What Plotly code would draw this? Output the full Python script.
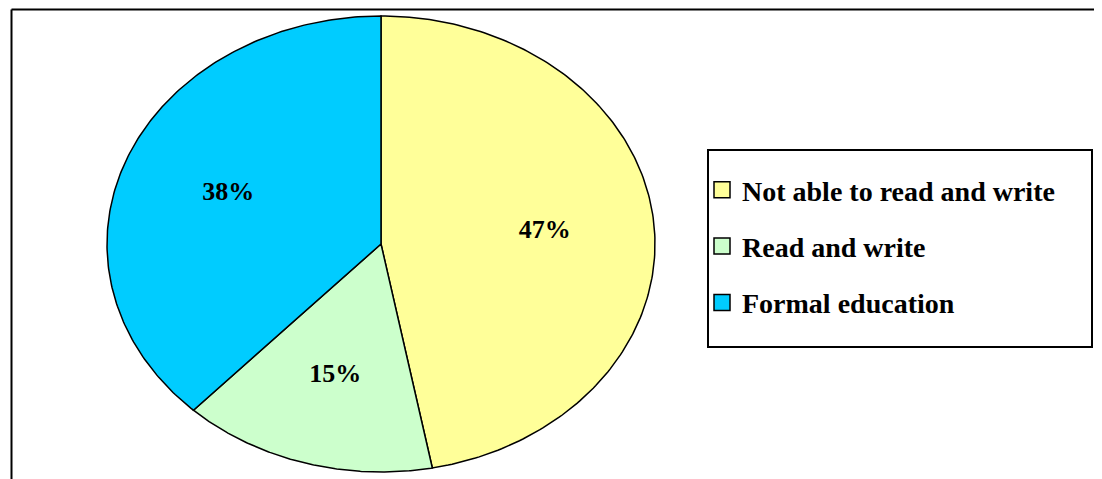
import numpy as np
import plotly.graph_objects as go

# ---- data ----
categories = ["Not able to read and write", "Read and write", "Formal education"]
values = [47, 15, 38]
labels = ["47%", "15%", "38%"]
colors = ["#FFFF99", "#CCFFCC", "#00CCFF"]

# ---- layout geometry (page pixel space; page body has 8px margin) ----
PW, PH = 1102, 479
OFF = 8
W, H = PW - OFF, PH - OFF
CX, CY, RX, RY = 381, 244, 274, 228
LABEL_R = 0.6

fig = go.Figure()
total = float(sum(values))
start = 0.0
for cat, v, lab, col in zip(categories, values, labels, colors):
    frac = v / total
    t0, t1 = start * 2 * np.pi, (start + frac) * 2 * np.pi
    th = np.linspace(t0, t1, 200)
    xs = np.concatenate([[CX], CX + RX * np.sin(th), [CX]])
    ys = np.concatenate([[CY], CY - RY * np.cos(th), [CY]])
    fig.add_trace(go.Scatter(x=xs, y=ys, mode="lines", fill="toself",
                             fillcolor=col, line=dict(color="black", width=1.5),
                             showlegend=False, hoverinfo="skip"))
    tm = (t0 + t1) / 2
    fig.add_trace(go.Scatter(x=[CX + LABEL_R * RX * np.sin(tm)],
                             y=[CY - LABEL_R * RY * np.cos(tm)],
                             mode="text", text=[lab],
                             textfont=dict(family="Liberation Serif", size=26, color="black",
                                           weight="bold"),
                             showlegend=False, hoverinfo="skip"))
    start += frac

for i, (cat, col) in enumerate(zip(categories, colors)):
    fig.add_trace(go.Scatter(x=[None], y=[None], mode="markers", name=cat,
                             legendgroup=f"g{i}",
                             marker=dict(symbol="square", size=16, color=col,
                                         line=dict(color="black", width=1.5))))

# frame lines
fig.add_shape(type="line", x0=11.5, x1=PW + 10, y0=9.5, y1=9.5, line=dict(color="black", width=2))
fig.add_shape(type="line", x0=11.5, x1=11.5, y0=9.5, y1=PH + 10, line=dict(color="black", width=2))
# legend box
fig.add_shape(type="rect", x0=708, x1=1092, y0=150, y1=347, line=dict(color="black", width=2),
              fillcolor="rgba(0,0,0,0)")

fig.update_layout(
    width=W, height=H, autosize=False,
    margin=dict(l=0, r=0, t=0, b=0),
    paper_bgcolor="white", plot_bgcolor="white",
    xaxis=dict(range=[OFF, PW], visible=False, fixedrange=True),
    yaxis=dict(range=[PH, OFF], visible=False, fixedrange=True),
    legend=dict(x=(702 - OFF) / W, y=1 - (165 - OFF) / H, xanchor="left", yanchor="top",
                borderwidth=0, bgcolor="rgba(0,0,0,0)",
                font=dict(family="Liberation Serif", size=28, color="black", weight="bold"),
                tracegroupgap=17, itemwidth=30),
    showlegend=True,
)

fig.write_html("out.html")
